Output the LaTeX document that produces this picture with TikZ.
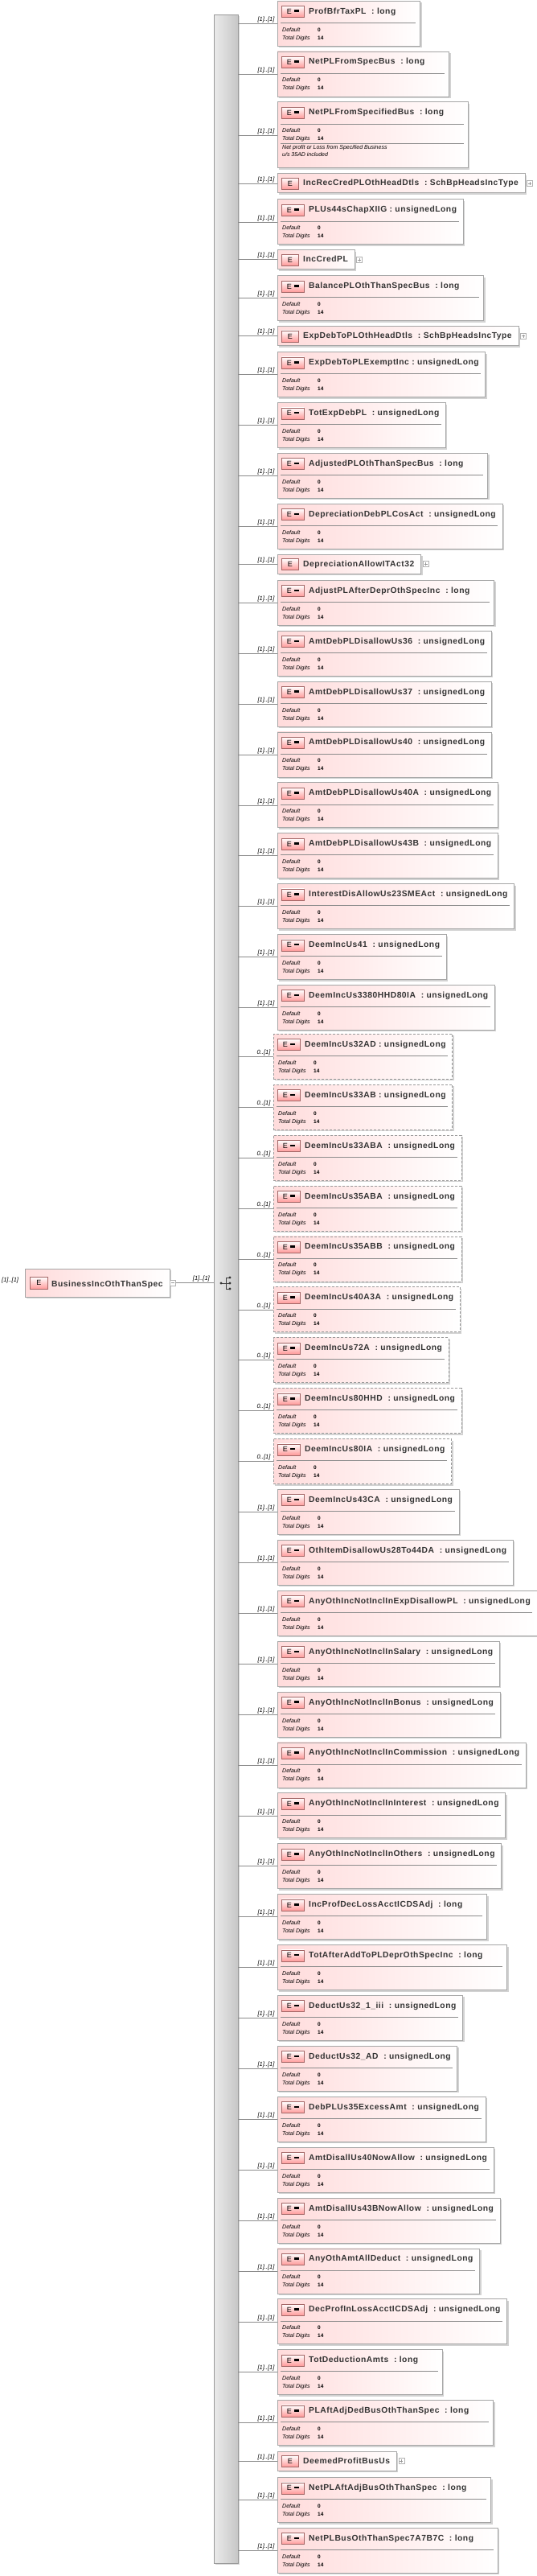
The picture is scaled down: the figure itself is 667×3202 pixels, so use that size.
\documentclass[tikz,border=0pt]{standalone}
\usepackage{fontspec}
\setmainfont{Liberation Sans}
\newfontfamily\ttlfont[LetterSpace=5]{Liberation Sans}
\usetikzlibrary{fit,shadows,calc}
\tikzset{
 ttl/.style={inner sep=0pt,font=\ttlfont\fontsize{10.3}{11}\selectfont\bfseries,text=black!80},
 ebox/.style={inner sep=0pt,draw=black!35,line width=0.8pt,left color=red!14,right color=white,
   drop shadow={shadow xshift=2pt,shadow yshift=-2pt,fill=black!25,opacity=.7}},
 opt/.style={dashed,dash pattern=on 3pt off 2pt,draw=black!40},
 req/.style={},
 ico/.style={draw=red!40!black!60,line width=0.7pt,top color=white,bottom color=red!40,inner sep=0pt,
   minimum height=14pt,font=\fontsize{9}{9}\selectfont,anchor=north west},
 det/.style={inner sep=0pt,anchor=base west,font=\fontsize{7}{8}\selectfont\itshape},
 val/.style={inner sep=0pt,anchor=base west,font=\fontsize{6.5}{8}\selectfont\bfseries},
 card/.style={inner sep=0pt,anchor=south east,font=\fontsize{7.5}{8}\selectfont\itshape},
 conn/.style={draw=black!45,line width=0.6pt},
 plusbox/.style={draw=black!30,line width=0.5pt,minimum size=7pt,inner sep=0pt,fill=white},
}
\newcommand\ElCore[8]{%
 \node[ttl,anchor=base west,text opacity=0] (t#1) at (#3+39,#2+16) {#4};
 \coordinate (tl#1) at (#3,#2);
 \coordinate (bb#1) at (0,#2+#8);
 \coordinate (r#1) at ([xshift=#6pt]t#1.east);
 \node[ebox,#7,fit=(tl#1)(r#1 |- bb#1)] (e#1) {};
 \node[ttl,anchor=base west] at (t#1.base west) {#4};
 \node[ico,minimum width=28pt] (i#1) at (#3+5,#2+6) {E\hspace{3pt}\rule[2.5pt]{6pt}{2.5pt}};
 \coordinate (s#1) at (#3+4,#2+27);
 \coordinate (se#1) at ([xshift=-6pt]e#1.east);
 \draw[black!45,line width=0.6pt] (s#1) -- (se#1 |- s#1);
 \node[det] at (#3+6,#2+38) {Default};
 \node[val] at (#3+50,#2+38) {0};
 \node[det] at (#3+6,#2+48) {Total Digits};
 \node[val] at (#3+50,#2+48) {14};
 \draw[conn] (bar.east |- e#1.west) -- (e#1.west);
 \node[card] at ([xshift=-3pt,yshift=1pt]e#1.west) {#5};
}
\newcommand\ElD[6]{\ElCore{#1}{#2}{#3}{#4}{#5}{#6}{req}{56}}
\newcommand\ElO[4]{\ElCore{#1}{#2}{340}{#3}{0..[1]}{#4}{opt}{56}}
\newcommand\ElS[3]{%
 \node[ttl,anchor=base west,text opacity=0] (t#1) at (345+32,#2+15) {#3};
 \coordinate (tl#1) at (345,#2);
 \coordinate (bb#1) at (0,#2+24);
 \coordinate (r#1) at ([xshift=8pt]t#1.east);
 \node[ebox,fit=(tl#1)(r#1 |- bb#1)] (e#1) {};
 \node[ttl,anchor=base west] at (t#1.base west) {#3};
 \node[ico,minimum width=21pt] (i#1) at (345+5,#2+5) {E};
 \coordinate (pp#1) at ([xshift=2pt]e#1.east);
 \node[plusbox,anchor=west] (p#1) at (pp#1) {};
 \draw[black!40,line width=0.4pt] ([xshift=-2pt]p#1.center) -- ([xshift=2pt]p#1.center) ([yshift=-2pt]p#1.center) -- ([yshift=2pt]p#1.center);
 \draw[conn] (bar.east |- e#1.west) -- (e#1.west);
 \node[card] at ([xshift=-3pt,yshift=1pt]e#1.west) {[1]..[1]};
}
\begin{document}
\begin{tikzpicture}[x=1pt,y=-1pt]
\useasboundingbox (0,0) rectangle (667,3202);
\coordinate (ba) at (266,18);
\coordinate (bz) at (296,3186);
\node[fit=(ba)(bz),inner sep=0pt,draw=black!40,line width=0.8pt,left color=white!92!black,right color=black!22,
  drop shadow={shadow xshift=2pt,shadow yshift=-2pt,fill=black!25,opacity=.6}] (bar) {};
\coordinate (ra) at (31,1577);
\coordinate (rz) at (211,1612);
\node[ebox,fit=(ra)(rz)] (root) {};
\node[ico,minimum width=22pt,minimum height=15pt] (ri) at (37,1587) {E};
\node[ttl,anchor=base west] (rt) at (64,1599) {BusinessIncOthThanSpec};
\node[card,anchor=base west] (rc) at (2,1593) {[1]..[1]};
\node[plusbox,anchor=west] (rm) at (root.east) {};
\draw[black!40,line width=0.4pt] ([xshift=-2pt]rm.center) -- ([xshift=2pt]rm.center);
\draw[conn] (rm.east) -- (bar.west |- rm.east);
\node[card,anchor=base east] (rc2) at (261,1591) {[1]..[1]};
\draw[black!75,line width=0.7pt] (275,1595) -- (281,1595) (281,1588) -- (281,1602) (281,1588) -- (285,1588) (281,1595) -- (285,1595) (281,1602) -- (285,1602);
\foreach \p in {(275,1595),(286,1588),(286,1595),(286,1602)} \fill[black!80] \p circle (1.6);
\ElD{1}{1}{345}{ProfBfrTaxPL\ \ :\ long}{[1]..[1]}{30}
\ElD{2}{63.9}{345}{NetPLFromSpecBus\ \ :\ long}{[1]..[1]}{30}
\ElCore{3}{126.8}{345}{NetPLFromSpecifiedBus\ \ :\ long}{[1]..[1]}{30}{req}{82}
\coordinate (n3a) at (349,177.8);
\draw[black!45,line width=0.6pt] (n3a) -- (se3 |- n3a);
\node[det,font=\fontsize{7}{9}\selectfont\itshape,align=left,anchor=north west] (n3) at (351,180) {Net profit or Loss from Specified Business\\u/s 35AD included};
\ElS{4}{215.8}{IncRecCredPLOthHeadDtls\ \ :\ SchBpHeadsIncType}
\ElD{5}{247.8}{345}{PLUs44sChapXIIG\ :\ unsignedLong}{[1]..[1]}{8}
\ElS{6}{310.7}{IncCredPL}
\ElD{7}{342.7}{345}{BalancePLOthThanSpecBus\ \ :\ long}{[1]..[1]}{30}
\ElS{8}{405.6}{ExpDebToPLOthHeadDtls\ \ :\ SchBpHeadsIncType}
\ElD{9}{437.6}{345}{ExpDebToPLExemptInc\ :\ unsignedLong}{[1]..[1]}{8}
\ElD{10}{500.5}{345}{TotExpDebPL\ \ :\ unsignedLong}{[1]..[1]}{8}
\ElD{11}{563.4}{345}{AdjustedPLOthThanSpecBus\ \ :\ long}{[1]..[1]}{30}
\ElD{12}{626.3}{345}{DepreciationDebPLCosAct\ \ :\ unsignedLong}{[1]..[1]}{8}
\ElS{13}{689.2}{DepreciationAllowITAct32}
\ElD{14}{721.2}{345}{AdjustPLAfterDeprOthSpecInc\ \ :\ long}{[1]..[1]}{30}
\ElD{15}{784.1}{345}{AmtDebPLDisallowUs36\ \ :\ unsignedLong}{[1]..[1]}{8}
\ElD{16}{847}{345}{AmtDebPLDisallowUs37\ \ :\ unsignedLong}{[1]..[1]}{8}
\ElD{17}{909.9}{345}{AmtDebPLDisallowUs40\ \ :\ unsignedLong}{[1]..[1]}{8}
\ElD{18}{972.8}{345}{AmtDebPLDisallowUs40A\ \ :\ unsignedLong}{[1]..[1]}{8}
\ElD{19}{1035.7}{345}{AmtDebPLDisallowUs43B\ \ :\ unsignedLong}{[1]..[1]}{8}
\ElD{20}{1098.6}{345}{InterestDisAllowUs23SMEAct\ \ :\ unsignedLong}{[1]..[1]}{8}
\ElD{21}{1161.5}{345}{DeemIncUs41\ \ :\ unsignedLong}{[1]..[1]}{8}
\ElD{22}{1224.4}{345}{DeemIncUs3380HHD80IA\ \ :\ unsignedLong}{[1]..[1]}{8}
\ElO{23}{1285.3}{DeemIncUs32AD\ :\ unsignedLong}{8}
\ElO{24}{1348.2}{DeemIncUs33AB\ :\ unsignedLong}{8}
\ElO{25}{1411.1}{DeemIncUs33ABA\ \ :\ unsignedLong}{8}
\ElO{26}{1474}{DeemIncUs35ABA\ \ :\ unsignedLong}{8}
\ElO{27}{1536.9}{DeemIncUs35ABB\ \ :\ unsignedLong}{8}
\ElO{28}{1599.8}{DeemIncUs40A3A\ \ :\ unsignedLong}{8}
\ElO{29}{1662.7}{DeemIncUs72A\ \ :\ unsignedLong}{8}
\ElO{30}{1725.6}{DeemIncUs80HHD\ \ :\ unsignedLong}{8}
\ElO{31}{1788.5}{DeemIncUs80IA\ \ :\ unsignedLong}{8}
\ElD{32}{1851.4}{345}{DeemIncUs43CA\ \ :\ unsignedLong}{[1]..[1]}{8}
\ElD{33}{1914.3}{345}{OthItemDisallowUs28To44DA\ \ :\ unsignedLong}{[1]..[1]}{8}
\ElD{34}{1977.2}{345}{AnyOthIncNotInclInExpDisallowPL\ \ :\ unsignedLong}{[1]..[1]}{8}
\ElD{35}{2040.1}{345}{AnyOthIncNotInclInSalary\ \ :\ unsignedLong}{[1]..[1]}{8}
\ElD{36}{2103}{345}{AnyOthIncNotInclInBonus\ \ :\ unsignedLong}{[1]..[1]}{8}
\ElD{37}{2165.9}{345}{AnyOthIncNotInclInCommission\ \ :\ unsignedLong}{[1]..[1]}{8}
\ElD{38}{2228.8}{345}{AnyOthIncNotInclInInterest\ \ :\ unsignedLong}{[1]..[1]}{8}
\ElD{39}{2291.7}{345}{AnyOthIncNotInclInOthers\ \ :\ unsignedLong}{[1]..[1]}{8}
\ElD{40}{2354.6}{345}{IncProfDecLossAcctICDSAdj\ \ :\ long}{[1]..[1]}{30}
\ElD{41}{2417.5}{345}{TotAfterAddToPLDeprOthSpecInc\ \ :\ long}{[1]..[1]}{30}
\ElD{42}{2480.4}{345}{DeductUs32\_1\_iii\ \ :\ unsignedLong}{[1]..[1]}{8}
\ElD{43}{2543.3}{345}{DeductUs32\_AD\ \ :\ unsignedLong}{[1]..[1]}{8}
\ElD{44}{2606.2}{345}{DebPLUs35ExcessAmt\ \ :\ unsignedLong}{[1]..[1]}{8}
\ElD{45}{2669.1}{345}{AmtDisallUs40NowAllow\ \ :\ unsignedLong}{[1]..[1]}{8}
\ElD{46}{2732}{345}{AmtDisallUs43BNowAllow\ \ :\ unsignedLong}{[1]..[1]}{8}
\ElD{47}{2794.9}{345}{AnyOthAmtAllDeduct\ \ :\ unsignedLong}{[1]..[1]}{8}
\ElD{48}{2857.8}{345}{DecProfInLossAcctICDSAdj\ \ :\ unsignedLong}{[1]..[1]}{8}
\ElD{49}{2920.7}{345}{TotDeductionAmts\ \ :\ long}{[1]..[1]}{30}
\ElD{50}{2983.6}{345}{PLAftAdjDedBusOthThanSpec\ \ :\ long}{[1]..[1]}{30}
\ElS{51}{3047}{DeemedProfitBusUs}
\ElD{52}{3079.5}{345}{NetPLAftAdjBusOthThanSpec\ \ :\ long}{[1]..[1]}{30}
\ElD{53}{3142.4}{345}{NetPLBusOthThanSpec7A7B7C\ \ :\ long}{[1]..[1]}{30}
\end{tikzpicture}
\end{document}
